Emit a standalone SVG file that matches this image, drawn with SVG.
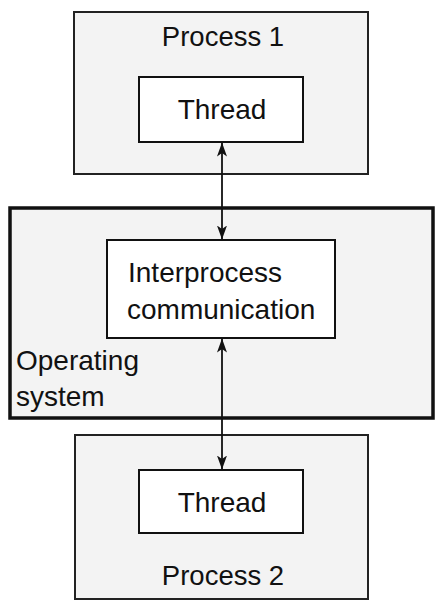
<svg xmlns="http://www.w3.org/2000/svg" width="440" height="612" viewBox="0 0 440 612">
<defs>
<style>
.outer{fill:#f3f3f3;stroke:#222;stroke-width:2}
.os{fill:#f3f3f3;stroke:#111;stroke-width:3.5}
.inner{fill:#fff;stroke:#111;stroke-width:2}
.t{font-family:"Liberation Sans",Arial,sans-serif;font-size:28px;fill:#111}
.c{text-anchor:middle}
.conn{stroke:#111;stroke-width:1.8;fill:none}
</style>
<marker id="ah" viewBox="0 0 14 10" refX="13.5" refY="5" markerWidth="14" markerHeight="10" markerUnits="userSpaceOnUse" orient="auto-start-reverse">
<path d="M0,0 L14,5 L0,10 L3.5,5 Z" fill="#111"/>
</marker>
</defs>
<rect width="440" height="612" fill="#fff"/>
<g id="process1">
<rect class="outer" x="74" y="12" width="294" height="162"/>
<text class="t c" x="223" y="46" style="font-size:27.5px">Process 1</text>
</g>
<g id="thread1">
<rect class="inner" x="139" y="77" width="164" height="65"/>
<text class="t c" x="222" y="119">Thread</text>
</g>
<g id="os">
<rect class="os" x="10" y="208" width="423" height="210"/>
<text class="t" x="16" y="370">Operating</text>
<text class="t" x="16" y="406">system</text>
</g>
<g id="ipc">
<rect class="inner" x="107" y="240" width="228" height="98"/>
<text class="t" x="128" y="282">Interprocess</text>
<text class="t" x="127" y="319">communication</text>
</g>
<g id="process2">
<rect class="outer" x="75" y="435" width="293" height="164"/>
<text class="t c" x="223" y="585" style="font-size:27.5px">Process 2</text>
</g>
<g id="thread2">
<rect class="inner" x="139" y="470" width="164" height="63"/>
<text class="t c" x="222" y="512">Thread</text>
</g>
<g id="connectors">
<line class="conn" x1="222" y1="143" x2="222" y2="239" marker-start="url(#ah)" marker-end="url(#ah)"/>
<line class="conn" x1="222" y1="339" x2="222" y2="469" marker-start="url(#ah)" marker-end="url(#ah)"/>
</g>
</svg>
